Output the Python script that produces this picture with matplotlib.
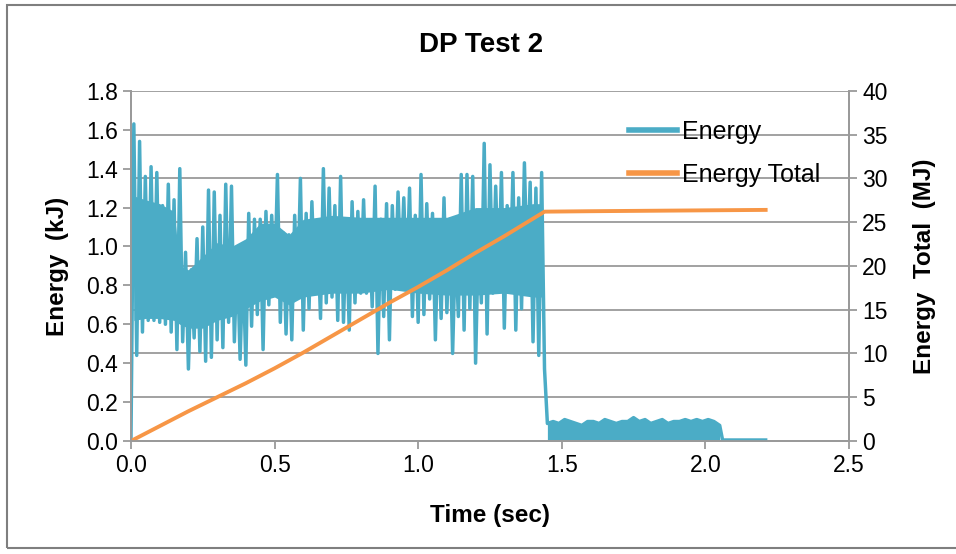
import numpy as np
import matplotlib
matplotlib.use("Agg")
import matplotlib.pyplot as plt
from matplotlib.patches import Rectangle
from matplotlib.ticker import FormatStrFormatter

plt.rcParams["font.family"] = ["Liberation Sans", "DejaVu Sans"]

# Energy (kJ) during firing, one sample every 0.01 s from t = 0
energy_dt = 0.01
energy_main = [
    0.00, 1.63, 0.44, 1.54, 0.56, 1.36, 0.62, 1.41, 0.62, 1.38,
    0.61, 1.21, 0.60, 1.32, 0.56, 1.24, 0.47, 1.40, 0.51, 0.97,
    0.37, 0.88, 0.53, 1.04, 0.46, 1.10, 0.41, 1.29, 0.43, 1.28,
    0.52, 1.16, 0.48, 1.32, 0.61, 1.31, 0.51, 0.97, 0.42, 0.92,
    0.39, 1.17, 0.59, 1.14, 0.65, 1.14, 0.47, 1.18, 0.70, 1.16,
    0.78, 1.37, 0.61, 1.07, 0.55, 1.06, 0.52, 1.16, 0.74, 1.35,
    0.57, 1.17, 0.68, 1.23, 0.79, 1.07, 0.63, 1.40, 0.71, 1.30,
    0.74, 1.21, 0.62, 1.36, 0.61, 1.10, 0.57, 1.23, 0.71, 1.18,
    0.76, 1.24, 0.76, 1.09, 0.69, 1.31, 0.45, 1.14, 0.64, 1.22,
    0.52, 1.21, 0.78, 1.28, 0.85, 1.25, 0.78, 1.30, 0.64, 1.16,
    0.61, 1.37, 0.65, 1.22, 0.73, 1.17, 0.52, 1.12, 0.63, 1.25,
    0.66, 1.14, 0.45, 1.02, 0.64, 1.37, 0.57, 1.37, 0.68, 1.36,
    0.40, 1.06, 0.71, 1.53, 0.55, 1.42, 0.76, 1.31, 0.80, 1.38,
    0.58, 1.21, 0.78, 1.38, 0.57, 1.25, 0.68, 1.43, 0.85, 1.33,
    0.51, 1.30, 0.44, 1.38, 0.37,
]

# Dense core of the signal (where the trace is solid), kJ
core_time = [0.01, 0.05, 0.10, 0.15, 0.17, 0.20, 0.25, 0.30, 0.35, 0.40,
             0.45, 0.50, 0.55, 0.60, 0.70, 0.80, 0.90, 1.00, 1.10, 1.20,
             1.30, 1.40, 1.43]
core_lo = [0.62, 0.63, 0.63, 0.62, 0.60, 0.58, 0.58, 0.62, 0.64, 0.68,
           0.72, 0.74, 0.70, 0.74, 0.76, 0.76, 0.78, 0.76, 0.75, 0.75,
           0.76, 0.74, 0.74]
core_hi = [1.26, 1.24, 1.22, 1.18, 0.90, 0.88, 0.95, 1.02, 1.00, 1.04,
           1.12, 1.12, 1.06, 1.14, 1.16, 1.15, 1.15, 1.15, 1.15, 1.20,
           1.20, 1.22, 1.22]

# Residual energy after the drop, one sample every 0.02 s from t = 1.45
low_start = 1.45
low_dt = 0.02
energy_low = [
    0.09, 0.10, 0.09, 0.11, 0.10, 0.09, 0.08, 0.10, 0.10, 0.09,
    0.11, 0.10, 0.09, 0.10, 0.10, 0.12, 0.10, 0.11, 0.09, 0.10,
    0.11, 0.09, 0.10, 0.10, 0.11, 0.10, 0.11, 0.10, 0.11, 0.10,
    0.08,
]

# Tail after the pulse ends
tail_time = [2.06, 2.21]
tail_energy = [0.005, 0.005]

# Cumulative energy (MJ)
total_time = [0.0, 0.1, 0.2, 0.3, 0.4, 0.5, 0.6, 0.7, 0.8, 0.9, 1.0,
              1.1, 1.2, 1.3, 1.4, 1.44, 1.6, 1.8, 2.0, 2.21]
total_mj = [0.0, 1.7, 3.4, 5.0, 6.6, 8.3, 10.1, 12.0, 13.9, 15.8, 17.6,
            19.5, 21.5, 23.4, 25.4, 26.2, 26.25, 26.3, 26.35, 26.4]

x_ticks = [0.0, 0.5, 1.0, 1.5, 2.0, 2.5]
kj_ticks = [0.0, 0.2, 0.4, 0.6, 0.8, 1.0, 1.2, 1.4, 1.6, 1.8]
mj_ticks = [0, 5, 10, 15, 20, 25, 30, 35, 40]

blue = "#4bacc6"
orange = "#f79646"
grey = "#9a9a9a"

t_main = np.arange(len(energy_main)) * energy_dt
t_low = low_start + np.arange(len(energy_low)) * low_dt
t_all = np.concatenate([t_main, t_low, tail_time])
e_all = np.concatenate([energy_main, energy_low, tail_energy])

fig = plt.figure(figsize=(9.56, 5.54), dpi=100)
ax = fig.add_axes([0.137, 0.204, 0.751, 0.632])
ax2 = ax.twinx()

kj_max, mj_max = kj_ticks[-1], mj_ticks[-1]

# gridlines follow the right-hand axis, drawn behind the data
for v in mj_ticks[1:]:
    ax.axhline(v * kj_max / mj_max, color=grey, lw=1.3, zorder=0)

ax.fill_between(core_time, core_lo, core_hi, color=blue, lw=0, zorder=2)
ax.fill_between(t_low, energy_low, 0, color=blue, lw=0, zorder=2)
(l1,) = ax.plot(t_all, e_all, color=blue, lw=2.5, label="Energy", zorder=3)
(l2,) = ax2.plot(total_time, total_mj, color=orange, lw=2.8, label="Energy Total")

ax.set_xlim(0, 2.5)
ax.set_ylim(0, kj_max)
ax2.set_ylim(0, mj_max)
ax.set_xticks(x_ticks)
ax.set_yticks(kj_ticks)
ax2.set_yticks(mj_ticks)
ax.xaxis.set_major_formatter(FormatStrFormatter("%.1f"))
ax.yaxis.set_major_formatter(FormatStrFormatter("%.1f"))

for a in (ax, ax2):
    for s in a.spines.values():
        s.set_color(grey)
        s.set_linewidth(1.3)
    a.spines["top"].set_visible(False)
    a.tick_params(labelsize=16.5, color=grey, width=1.3, length=6)

ax.set_xlabel("Time (sec)", fontsize=17.5, fontweight="bold", labelpad=19)
ax.set_ylabel("Energy  (kJ)", fontsize=17.5, fontweight="bold", labelpad=12)
ax2.set_ylabel("Energy  Total  (MJ)", fontsize=17.5, fontweight="bold", labelpad=18)
ax.set_title("DP Test 2", fontsize=20, fontweight="bold", pad=28, x=0.488)

ax2.legend(handles=[l1, l2], loc="upper left", bbox_to_anchor=(0.68, 0.945),
           frameon=False, fontsize=18, handlelength=1.9, handletextpad=0.2,
           labelspacing=0.75, borderaxespad=0)
for h in ax2.get_legend().get_lines():
    h.set_linewidth(4)

fig.patches.append(Rectangle((7 / 956, 6 / 554), 1.0, 543 / 554,
                             transform=fig.transFigure, fill=False,
                             edgecolor="#7f7f7f", lw=1.5))

fig.savefig("out.png", dpi=100)
